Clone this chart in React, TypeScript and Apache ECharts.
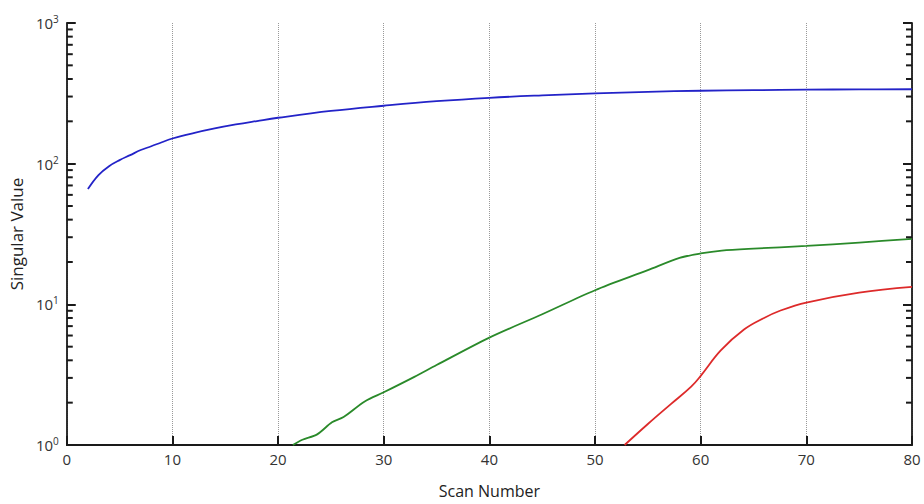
import React, { useEffect, useRef } from "react";
import * as echarts from "echarts";

const X_TICKS = [0, 10, 20, 30, 40, 50, 60, 70, 80];
const Y_DECADES = [1, 10, 100, 1000];
const MINOR_TICKS = [2, 3, 4, 5, 6, 7, 8, 9, 20, 30, 40, 50, 60, 70, 80, 90, 200, 300, 400, 500, 600, 700, 800, 900];

const blueSeries: [number, number][] = [
  [2, 66], [3, 83], [4, 96], [5, 106], [6, 115], [7, 125], [8, 133], [9, 142], [10, 151],
  [12, 165], [14, 178], [16, 190], [18, 201], [20, 212], [25, 237], [30, 258], [35, 278],
  [40, 294], [45, 306], [50, 316], [55, 324], [60, 330], [65, 333], [70, 336], [75, 337], [80, 338],
];

const greenSeries: [number, number][] = [
  [21.4, 1.0], [22.3, 1.09], [23.7, 1.19], [25.1, 1.45], [26.2, 1.58], [28.2, 2.04], [30, 2.37],
  [32.9, 3.05], [35, 3.7], [40, 5.8], [45, 8.5], [50, 12.6], [55, 17.5], [58, 21.4], [60, 23.0],
  [62, 24.1], [65, 24.9], [70, 26.0], [75, 27.5], [80, 29.2],
];

const redSeries: [number, number][] = [
  [52.8, 1.0], [55, 1.41], [57.2, 1.96], [59.1, 2.6], [60, 3.1], [61.9, 4.7], [64.1, 6.62],
  [66, 8.0], [67.5, 9.0], [70, 10.3], [75, 12.1], [80, 13.3],
];

const AXIS_COLOR = "#1a1a1a";
const FONT = "'Open Sans', 'Noto Sans', sans-serif";

export default function App() {
  const ref = useRef<HTMLDivElement>(null);
  useEffect(() => {
    if (!ref.current) return;
    const chart = echarts.init(ref.current, null, { renderer: "svg" });
    const tickStyle = { color: AXIS_COLOR, width: 2 };
    chart.setOption({
      animation: false,
      backgroundColor: "#fff",
      grid: { left: 64, right: 12, top: 23, bottom: 56, containLabel: false },
      xAxis: {
        type: "value",
        min: 0,
        max: 80,
        interval: 10,
        name: "Scan Number",
        nameLocation: "middle",
        nameGap: 38,
        nameTextStyle: { fontSize: 16, color: "#222", fontFamily: FONT },
        axisLine: { show: true, lineStyle: { color: AXIS_COLOR, width: 1.8 } },
        axisTick: { show: true, inside: true, length: 9, lineStyle: tickStyle },
        axisLabel: {
          fontSize: 15,
          color: "#333",
          fontFamily: FONT,
          margin: 6,
          formatter: (v: number) => (X_TICKS.includes(v) ? String(v) : ""),
        },
        splitLine: { show: true, lineStyle: { color: "#999", type: "dotted", width: 1 } },
      },
      yAxis: [
        {
          type: "log",
          logBase: 10,
          min: Y_DECADES[0],
          max: Y_DECADES[Y_DECADES.length - 1],
          name: "Singular Value",
          nameLocation: "middle",
          nameGap: 36,
          nameTextStyle: { fontSize: 17, color: "#222", fontFamily: FONT },
          axisLine: { show: true, lineStyle: { color: AXIS_COLOR, width: 1.8 } },
          axisTick: { show: true, inside: true, length: 9, lineStyle: tickStyle },
          axisLabel: {
            show: true,
            margin: 8,
            formatter: (v: number) => `{a|10}{b|${Math.round(Math.log10(v))}}`,
            rich: {
              a: { fontSize: 15, color: "#333", fontFamily: FONT },
              b: { fontSize: 10, color: "#333", fontFamily: FONT, padding: [0, 0, 8, 0] },
            },
          },
          splitLine: { show: false },
        },
        {
          type: "log",
          logBase: 10,
          position: "right",
          min: Y_DECADES[0],
          max: Y_DECADES[Y_DECADES.length - 1],
          axisLine: { show: true, lineStyle: { color: AXIS_COLOR, width: 1.8 } },
          axisTick: { show: true, inside: true, length: 9, lineStyle: tickStyle },
          axisLabel: { show: false },
          splitLine: { show: false },
        },
      ],
      series: [
        {
          type: "custom",
          clip: false,
          z: 10,
          data: MINOR_TICKS.map((v) => [0, v]),
          renderItem: (params: any, api: any) => {
            const v = api.value(1);
            const l = api.coord([0, v]);
            const r = api.coord([80, v]);
            const st = { stroke: AXIS_COLOR, lineWidth: 2 };
            return {
              type: "group",
              children: [
                { type: "line", shape: { x1: l[0], y1: l[1], x2: l[0] + 6, y2: l[1] }, style: st },
                { type: "line", shape: { x1: r[0] - 6, y1: r[1], x2: r[0], y2: r[1] }, style: st },
              ],
            };
          },
        },
        {
          type: "line",
          data: blueSeries,
          smooth: 0.4,
          showSymbol: false,
          lineStyle: { color: "#2323c8", width: 1.8 },
          itemStyle: { color: "#2323c8" },
        },
        {
          type: "line",
          data: greenSeries,
          smooth: 0.3,
          showSymbol: false,
          lineStyle: { color: "#2a8a2a", width: 1.8 },
          itemStyle: { color: "#2a8a2a" },
        },
        {
          type: "line",
          data: redSeries,
          smooth: 0.4,
          showSymbol: false,
          lineStyle: { color: "#dd2a2a", width: 1.8 },
          itemStyle: { color: "#dd2a2a" },
        },
      ],
    });
    return () => chart.dispose();
  }, []);
  return <div ref={ref} style={{ width: 924, height: 504, position: "absolute", left: 0, top: 0 }} />;
}
